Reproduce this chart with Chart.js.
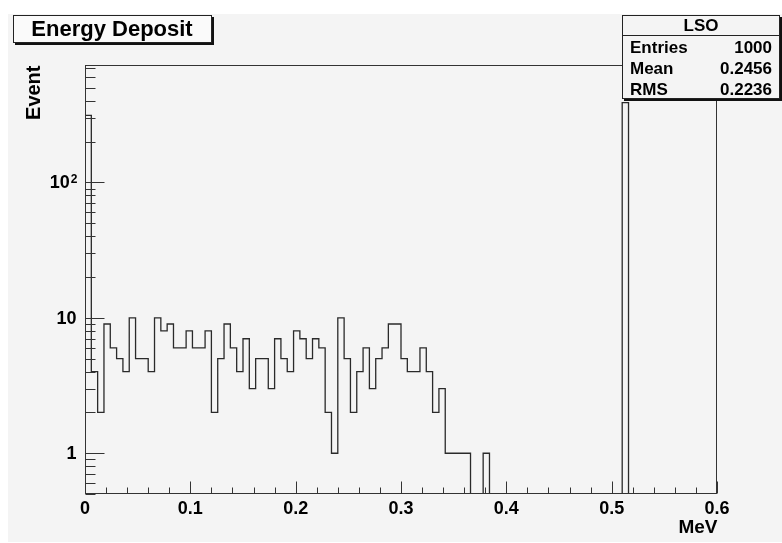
<!DOCTYPE html>
<html>
<head>
<meta charset="utf-8">
<script src="https://cdn.jsdelivr.net/npm/chart.js@4"></script>
<style>
  html, body { margin: 0; padding: 0; background: #fff; }
  #wrap { width: 782px; height: 543px; position: relative; }
</style>
</head>
<body>
<div id="wrap"><canvas id="histo"></canvas></div>
<script>
// Histograma: 100 bins de 0 a 0.6 MeV
const binWidth = 0.006;
const counts = [
  312,
  4, 2, 9, 6, 5, 4, 10, 5, 5, 4,
  10, 8, 9, 6, 6, 8, 6, 6, 8, 2,
  5, 9, 6, 4, 7, 3, 5, 5, 3, 7,
  5, 4, 8, 7, 5, 7, 6, 2, 1, 10,
  5, 2, 4, 6, 3, 5, 6, 9, 9, 5,
  4, 4, 6, 4, 2, 3, 1, 1, 1, 1,
  0, 0, 1, 0, 0, 0, 0, 0, 0, 0,
  0, 0, 0, 0, 0, 0, 0, 0, 0, 0,
  0, 0, 0, 0, 388, 0, 0, 0, 0, 0,
  0, 0, 0, 0, 0, 0, 0, 0, 0
];

// Ejes
const xMin = 0, xMax = 0.6;
const yMin = 0.5, yMax = 735;
const xMajorTicks = [0, 0.1, 0.2, 0.3, 0.4, 0.5, 0.6];
const xTickLabels = ['0', '0.1', '0.2', '0.3', '0.4', '0.5', '0.6'];
const xMinorStep = 0.02;
const yMajorTicks = [1, 10, 100];
const yTickLabels = [['1', ''], ['10', ''], ['10', '2']];
const yMinorTicks = [0.5, 0.6, 0.7, 0.8, 0.9, 2, 3, 4, 5, 6, 7, 8, 9,
  20, 30, 40, 50, 60, 70, 80, 90, 200, 300, 400, 500, 600, 700];

// Textos
const titleText = 'Energy Deposit';
const xTitle = 'MeV';
const yTitle = 'Event';
const statsName = 'LSO';
const statsLabels = ['Entries', 'Mean', 'RMS'];
const statsValues = ['1000', '0.2456', '0.2236'];

const FONT = '"Liberation Sans", Arial, Helvetica, sans-serif';

// Puntos del contorno (escalón) en los bordes de cada bin
const histPoints = [{ x: 0, y: yMin }];
counts.forEach((c, i) => {
  histPoints.push({ x: i * binWidth, y: c > 0 ? c : yMin });
});
histPoints.push({ x: xMax, y: yMin });

function drawBox(ctx, x1, y1, x2, y2, fill) {
  ctx.fillStyle = '#111';
  ctx.fillRect(x1 + 2, y1 + 2, x2 - x1, y2 - y1);
  ctx.fillStyle = fill;
  ctx.fillRect(x1, y1, x2 - x1, y2 - y1);
  ctx.strokeStyle = '#222';
  ctx.lineWidth = 1;
  ctx.strokeRect(x1 + 0.5, y1 + 0.5, x2 - x1 - 1, y2 - y1 - 1);
}

const rootStyle = {
  id: 'rootStyle',
  beforeDraw(chart) {
    const ctx = chart.ctx;
    ctx.save();
    ctx.fillStyle = '#ffffff';
    ctx.fillRect(0, 0, chart.width, chart.height);
    ctx.fillStyle = '#f4f4f4';
    ctx.fillRect(8, 14, chart.width - 8, 528);
    ctx.restore();
  },
  afterDraw(chart) {
    const { ctx, chartArea: a, scales } = chart;
    const xs = scales.x, ys = scales.y;
    const L = Math.round(a.left) + 0.5, R = Math.round(a.right) - 0.5;
    const T = Math.round(a.top) + 0.5, B = Math.round(a.bottom) - 0.5;
    ctx.save();

    // marco
    ctx.strokeStyle = '#333';
    ctx.lineWidth = 1;
    ctx.strokeRect(L, T, R - L, B - T);

    // ticks eje x (hacia dentro)
    ctx.beginPath();
    for (let v = xMin; v <= xMax + 1e-9; v += xMinorStep) {
      const px = Math.round(xs.getPixelForValue(v)) + 0.5;
      const isMajor = Math.abs(v * 10 - Math.round(v * 10)) < 1e-6;
      ctx.moveTo(px, B);
      ctx.lineTo(px, B - (isMajor ? 12 : 6));
    }
    // ticks eje y
    yMajorTicks.forEach(v => {
      const py = Math.round(ys.getPixelForValue(v)) + 0.5;
      ctx.moveTo(L, py);
      ctx.lineTo(L + 19, py);
    });
    yMinorTicks.forEach(v => {
      const py = Math.round(ys.getPixelForValue(v)) + 0.5;
      ctx.moveTo(L, py);
      ctx.lineTo(L + 10, py);
    });
    ctx.stroke();

    // etiquetas
    ctx.fillStyle = '#000';
    ctx.font = 'bold 18px ' + FONT;
    ctx.textBaseline = 'middle';
    ctx.textAlign = 'center';
    xMajorTicks.forEach((v, i) => {
      ctx.fillText(xTickLabels[i], xs.getPixelForValue(v), B + 16);
    });
    yMajorTicks.forEach((v, i) => {
      const py = ys.getPixelForValue(v);
      const [base, sup] = yTickLabels[i];
      if (sup) {
        ctx.font = 'bold 12px ' + FONT;
        ctx.textAlign = 'right';
        ctx.fillText(sup, L - 8, py - 3);
        const w = ctx.measureText(sup).width;
        ctx.font = 'bold 18px ' + FONT;
        ctx.fillText(base, L - 9 - w, py + 1);
      } else {
        ctx.textAlign = 'right';
        ctx.fillText(base, L - 9, py + 1);
      }
    });

    // títulos de ejes
    ctx.font = 'bold 19px ' + FONT;
    ctx.textAlign = 'right';
    ctx.fillText(xTitle, R + 1, B + 34);
    ctx.save();
    ctx.translate(34, T);
    ctx.rotate(-Math.PI / 2);
    ctx.font = 'bold 20px ' + FONT;
    ctx.textAlign = 'right';
    ctx.fillText(yTitle, 0, 0);
    ctx.restore();

    // título
    drawBox(ctx, 13, 15, 212, 43, '#fafafa');
    ctx.fillStyle = '#000';
    ctx.font = 'bold 22px ' + FONT;
    ctx.textAlign = 'center';
    ctx.fillText(titleText, 112, 30);

    // caja de estadísticas
    drawBox(ctx, 622, 15, 780, 99, '#f4f4f4');
    ctx.strokeStyle = '#222';
    ctx.beginPath();
    ctx.moveTo(622, 35.5);
    ctx.lineTo(779, 35.5);
    ctx.stroke();
    ctx.fillStyle = '#000';
    ctx.font = 'bold 17px ' + FONT;
    ctx.textAlign = 'center';
    ctx.fillText(statsName, 701, 26);
    const rowY = [48, 69, 90];
    statsLabels.forEach((lab, i) => {
      ctx.textAlign = 'left';
      ctx.fillText(lab, 630, rowY[i]);
      ctx.textAlign = 'right';
      ctx.fillText(statsValues[i], 772, rowY[i]);
    });

    ctx.restore();
  }
};

const chart = new Chart(document.getElementById('histo'), {
  type: 'line',
  data: {
    datasets: [{
      data: histPoints,
      stepped: 'before',
      borderColor: '#2a2a2a',
      borderWidth: 1.3,
      pointRadius: 0,
      fill: false,
      tension: 0
    }]
  },
  options: {
    responsive: true,
    maintainAspectRatio: false,
    animation: false,
    layout: { padding: { left: 85, right: 65, top: 65, bottom: 49 } },
    plugins: {
      legend: { display: false },
      tooltip: { enabled: false }
    },
    scales: {
      x: { type: 'linear', min: xMin, max: xMax, display: false },
      y: { type: 'logarithmic', min: yMin, max: yMax, display: false }
    }
  },
  plugins: [rootStyle]
});
</script>
</body>
</html>
